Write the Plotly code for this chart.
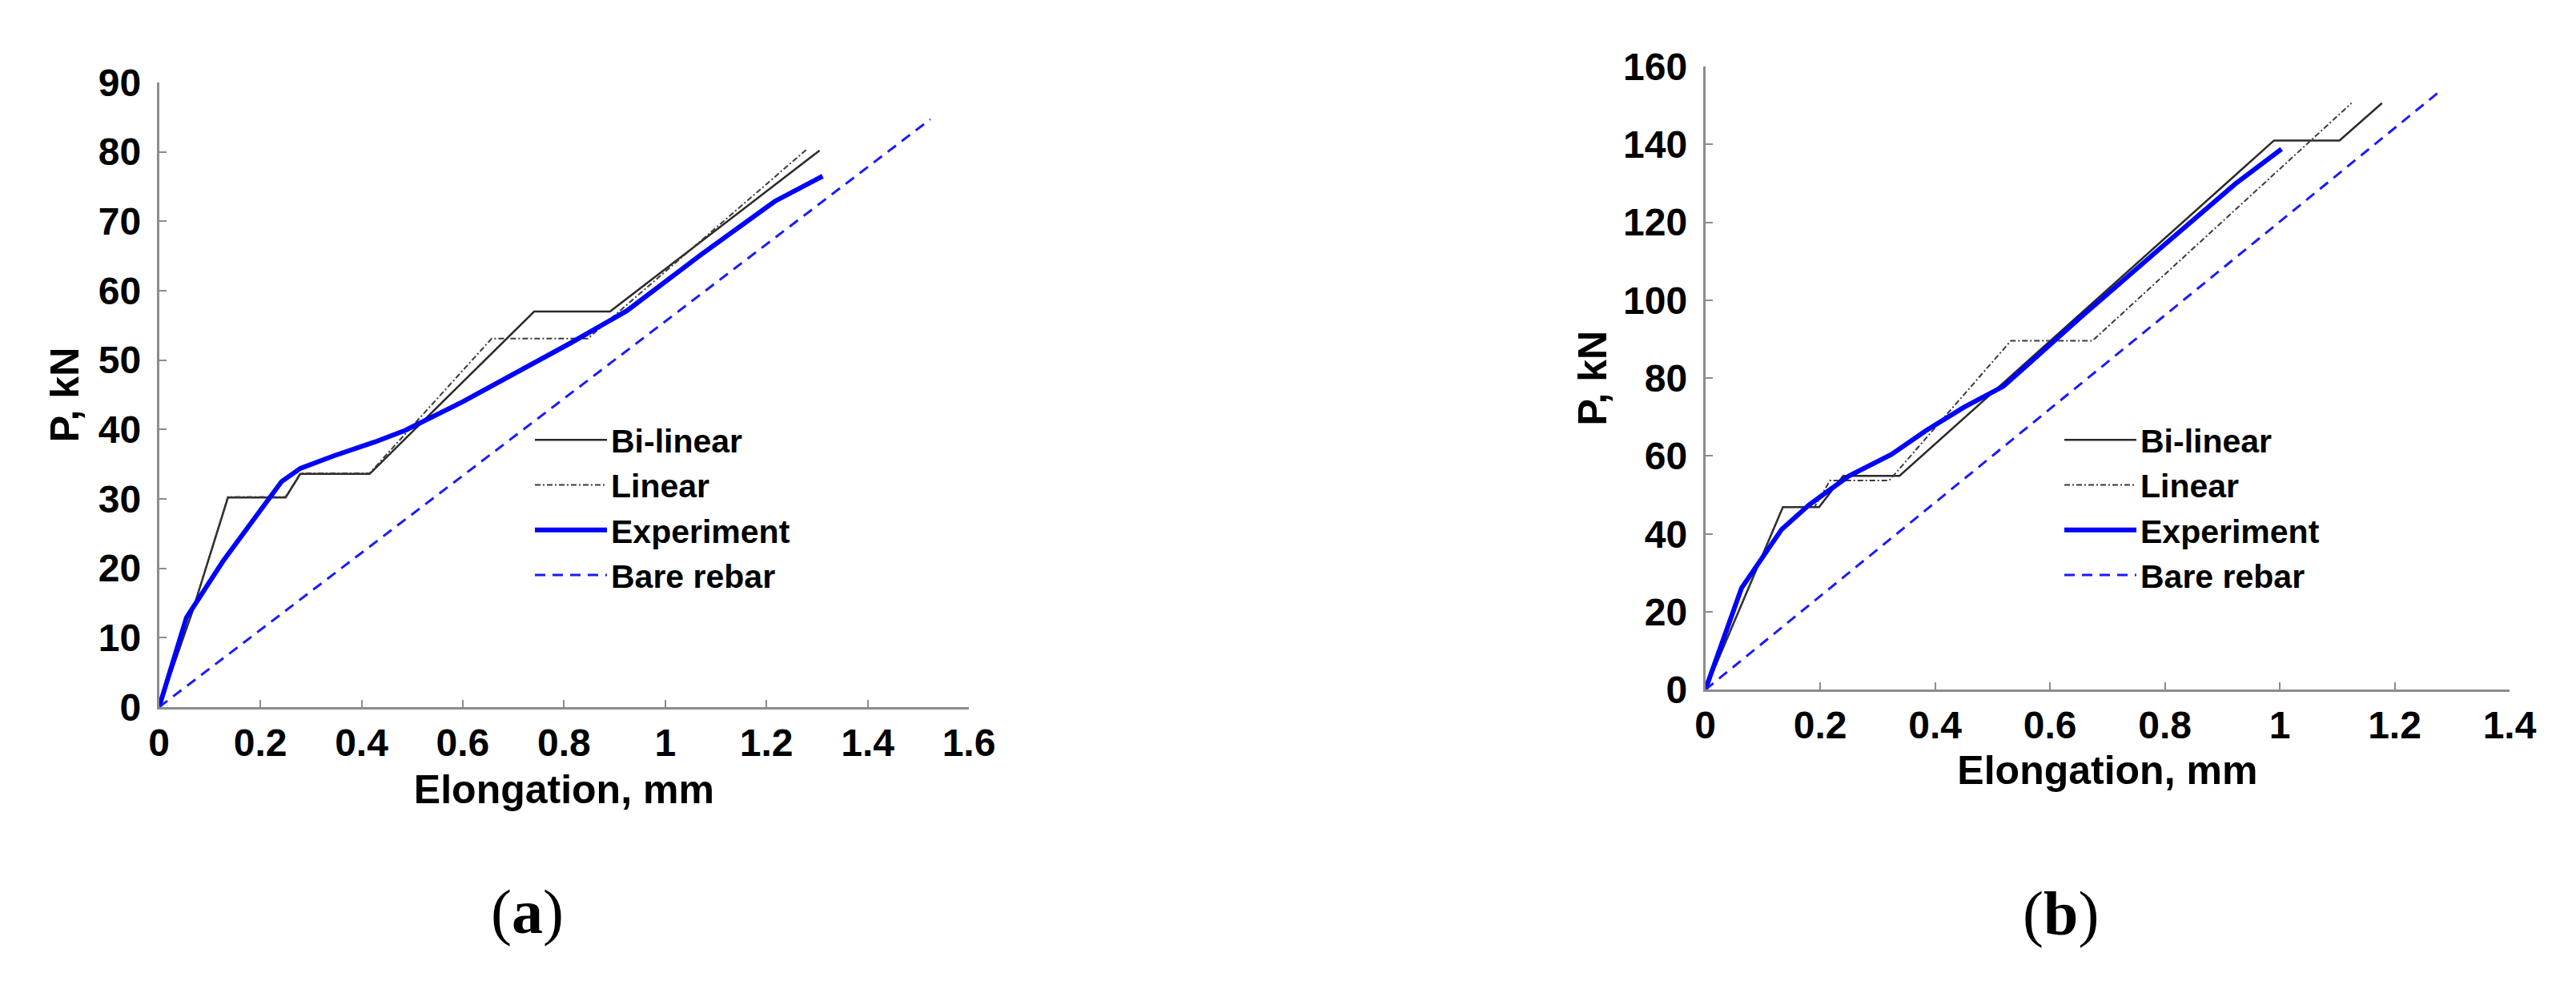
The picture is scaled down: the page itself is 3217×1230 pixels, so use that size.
import plotly.graph_objects as go

# ---- panel (a) ----
a_bilinear_x = [0, 0.065, 0.136, 0.25, 0.279, 0.416, 0.741, 0.891, 1.305]
a_bilinear_y = [0, 13.6, 30.2, 30.2, 33.6, 33.6, 57.0, 57.0, 80.2]
a_linear_x = [0, 0.065, 0.136, 0.25, 0.279, 0.416, 0.657, 0.847, 1.28]
a_linear_y = [0, 13.6, 30.3, 30.3, 33.7, 33.7, 53.1, 53.1, 80.4]
a_exp_x = [0, 0.054, 0.126, 0.221, 0.242, 0.279, 0.345, 0.426, 0.487,
           0.6, 0.69, 0.814, 0.924, 1.071, 1.217, 1.311]
a_exp_y = [0, 12.9, 21.0, 30.6, 32.5, 34.4, 36.2, 38.2, 39.9,
           44.0, 47.5, 52.5, 57.1, 65.2, 72.9, 76.5]
a_bare_x = [0, 1.524]
a_bare_y = [0, 84.7]

# ---- panel (b) ----
b_bilinear_x = [0, 0.135, 0.198, 0.24, 0.338, 0.99, 1.104, 1.178]
b_bilinear_y = [0, 46.9, 46.9, 54.9, 54.9, 141.0, 141.0, 150.6]
b_linear_x = [0, 0.135, 0.19, 0.217, 0.32, 0.532, 0.674, 1.125]
b_linear_y = [0, 46.9, 46.9, 53.7, 53.7, 89.6, 89.6, 150.6]
b_exp_x = [0, 0.063, 0.133, 0.18, 0.25, 0.324, 0.384, 0.45, 0.519,
           0.654, 0.788, 0.923, 1.003]
b_exp_y = [0, 26.1, 41.2, 47.4, 54.9, 60.4, 66.5, 72.5, 77.9,
           95.7, 112.8, 129.9, 138.8]
b_bare_x = [0, 1.28]
b_bare_y = [0, 153.8]

names = ['Bi-linear', 'Linear', 'Experiment', 'Bare rebar']

W, H = 3217, 1230
FONT = 'Liberation Sans'


def px(x):
    return x / W


def py(y):
    return 1 - y / H


styles = [
    dict(color='#2a2a2a', width=2.5, dash='solid'),
    dict(color='#3a3a3a', width=2, dash='7px,3px,2px,3px'),
    dict(color='#0000ff', width=6, dash='solid'),
    dict(color='#1a1aff', width=3, dash='13px,9px'),
]

panels = [
    ([a_bilinear_x, a_linear_x, a_exp_x, a_bare_x],
     [a_bilinear_y, a_linear_y, a_exp_y, a_bare_y], 'x', 'y', 'legend'),
    ([b_bilinear_x, b_linear_x, b_exp_x, b_bare_x],
     [b_bilinear_y, b_linear_y, b_exp_y, b_bare_y], 'x2', 'y2', 'legend2'),
]

fig = go.Figure()
for xs, ys, xa, ya, lg in panels:
    for name, x, y, st in zip(names, xs, ys, styles):
        fig.add_trace(go.Scatter(x=x, y=y, name=name, mode='lines',
                                 line=st, xaxis=xa, yaxis=ya, legend=lg))

tick_font = dict(family=FONT, size=48, color='black', weight=700)
title_font = dict(family=FONT, size=50, color='black', weight=700)


def axis(rng, dtick, domain, anchor, title, standoff, label_gap):
    return dict(range=rng, dtick=dtick, domain=domain, anchor=anchor,
                automargin=False,
                showline=True, linecolor='#8c8c8c', linewidth=3,
                ticks='inside', ticklen=9, tickwidth=2, tickcolor='#8c8c8c',
                showgrid=False, zeroline=False, tickfont=tick_font,
                title=dict(text=title, font=title_font, standoff=standoff),
                ticklabelstandoff=label_gap)


legend_style = dict(xanchor='left', yanchor='top', bgcolor='rgba(0,0,0,0)',
                    font=dict(family=FONT, size=41, color='black', weight=700),
                    itemwidth=90, tracegroupgap=0)

label_font = dict(family='Liberation Serif', size=78, color='black')

fig.update_layout(
    width=W, height=H, margin=dict(l=0, r=0, t=0, b=0),
    paper_bgcolor='white', plot_bgcolor='white',
    xaxis=axis([0, 1.6], 0.2, [px(190.7), px(1202)], 'y',
               'Elongation, mm', 16, 0),
    yaxis=axis([0, 90], 10, [py(875), py(95)], 'x', 'P, kN', 9, 10),
    xaxis2=axis([0, 1.4], 0.2, [px(2121.7), px(3126)], 'y2',
                'Elongation, mm', 14, 0),
    yaxis2=axis([0, 160], 20, [py(853.3), py(75)], 'x2', 'P, kN', 5, 10),
    legend=dict(x=px(655), y=py(508), **legend_style),
    legend2=dict(x=px(2565), y=py(508), **legend_style),
    annotations=[
        dict(text='(<b>a</b>)', x=px(650), y=py(1130), xref='paper',
             yref='paper', xanchor='center', yanchor='middle',
             showarrow=False, font=label_font),
        dict(text='(<b>b</b>)', x=px(2565), y=py(1132), xref='paper',
             yref='paper', xanchor='center', yanchor='middle',
             showarrow=False, font=label_font),
    ],
)

fig.write_html('out.html')
